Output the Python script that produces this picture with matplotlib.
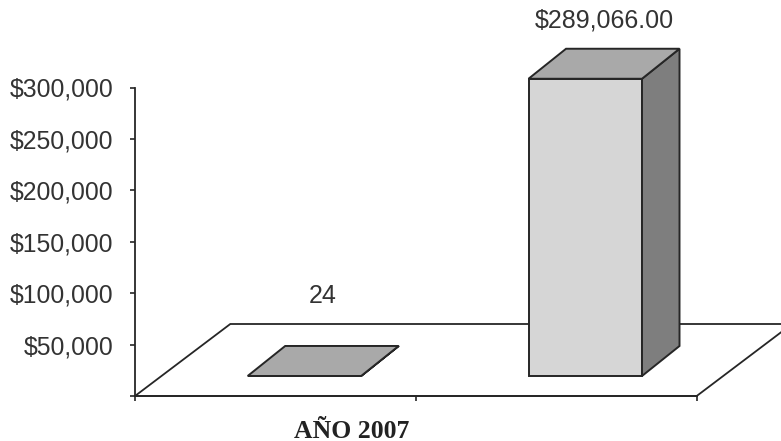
import matplotlib
matplotlib.use("Agg")
import matplotlib.pyplot as plt
from matplotlib.patches import Polygon
from matplotlib.ticker import FuncFormatter

# datos
categoria = "AÑO 2007"
valores = [24, 289066]
etiquetas = ["24", "$289,066.00"]
yticks = [0, 50000, 100000, 150000, 200000, 250000, 300000]

W, H = 781, 441
fig = plt.figure(figsize=(W / 100, H / 100), dpi=100)
plt.rcParams["font.family"] = ["Liberation Sans", "DejaVu Sans"]

# ejes: origen en (135, 396) px, alto 308.5 px, ancho 561.7 px
ax_w, ax_h = 561.7, 308.5
ax = fig.add_axes([135 / W, (H - 396) / H, ax_w / W, ax_h / H])
ax.set_xlim(0, len(valores))
ax.set_ylim(0, 300000)
ax.patch.set_alpha(0)

ux = len(valores) / ax_w   # unidades x por pixel
uy = 300000 / ax_h         # unidades y por pixel

borde = "#262626"
txt = "#333333"

# piso en perspectiva
piso_dx, piso_dy = 95.3 * ux, 72 * uy
piso = Polygon([(0, 0), (len(valores), 0),
                (len(valores) + piso_dx, piso_dy), (piso_dx, piso_dy)],
               closed=True, facecolor="white", edgecolor=borde, lw=1.3,
               clip_on=False, zorder=1)
ax.add_patch(piso)

# barras 3d
ancho = 0.404
y0 = 20 * uy            # base de la cara frontal
s0 = 29 * ux            # desplazamiento de la cara frontal
ddx, ddy = 37.5 * ux, 30 * uy
offs_lbl = [50, 28]     # px sobre la arista trasera
for i, v in enumerate(valores):
    xc = i + 0.5
    xl = xc - ancho / 2 + s0
    xr = xc + ancho / 2 + s0
    frente = [(xl, y0), (xr, y0), (xr, y0 + v), (xl, y0 + v)]
    techo = [(xl, y0 + v), (xr, y0 + v), (xr + ddx, y0 + v + ddy), (xl + ddx, y0 + v + ddy)]
    lado = [(xr, y0), (xr + ddx, y0 + ddy), (xr + ddx, y0 + v + ddy), (xr, y0 + v)]
    for pts, c in ((frente, "#d6d6d6"), (lado, "#7e7e7e"), (techo, "#a9a9a9")):
        ax.add_patch(Polygon(pts, closed=True, facecolor=c, edgecolor=borde,
                             lw=1.4, joinstyle="miter", clip_on=False, zorder=3))
    ax.annotate(etiquetas[i], xy=(xc + s0 + ddx / 2, y0 + v + ddy),
                xytext=(0, offs_lbl[i] * 0.72), textcoords="offset points",
                ha="center", va="center", fontsize=18, color=txt,
                annotation_clip=False, zorder=5)

# etiqueta de categoria
ax.annotate(categoria, xy=(0.5 + 76.6 * ux, 0), xytext=(0, -35 * 0.72),
            textcoords="offset points", ha="center", va="center",
            fontsize=18.5, fontweight="bold", color="#222222",
            family=["Liberation Serif", "DejaVu Serif"], annotation_clip=False)

# ejes
ax.set_yticks(yticks)
ax.yaxis.set_major_formatter(FuncFormatter(lambda v, p: "" if v == 0 else "${:,.0f}".format(v)))
ax.set_xticks(range(len(valores) + 1))
ax.set_xticklabels([])
ax.tick_params(axis="y", direction="out", length=3.6, width=1.2, color=borde,
               pad=12, labelsize=17.8, labelcolor=txt)
ax.tick_params(axis="x", direction="out", length=3.6, width=1.2, color=borde)
for s in ("top", "right"):
    ax.spines[s].set_visible(False)
for s in ("left", "bottom"):
    ax.spines[s].set_color(borde)
    ax.spines[s].set_linewidth(1.3)
    ax.spines[s].set_zorder(2)

plt.savefig("out.png", dpi=100)
